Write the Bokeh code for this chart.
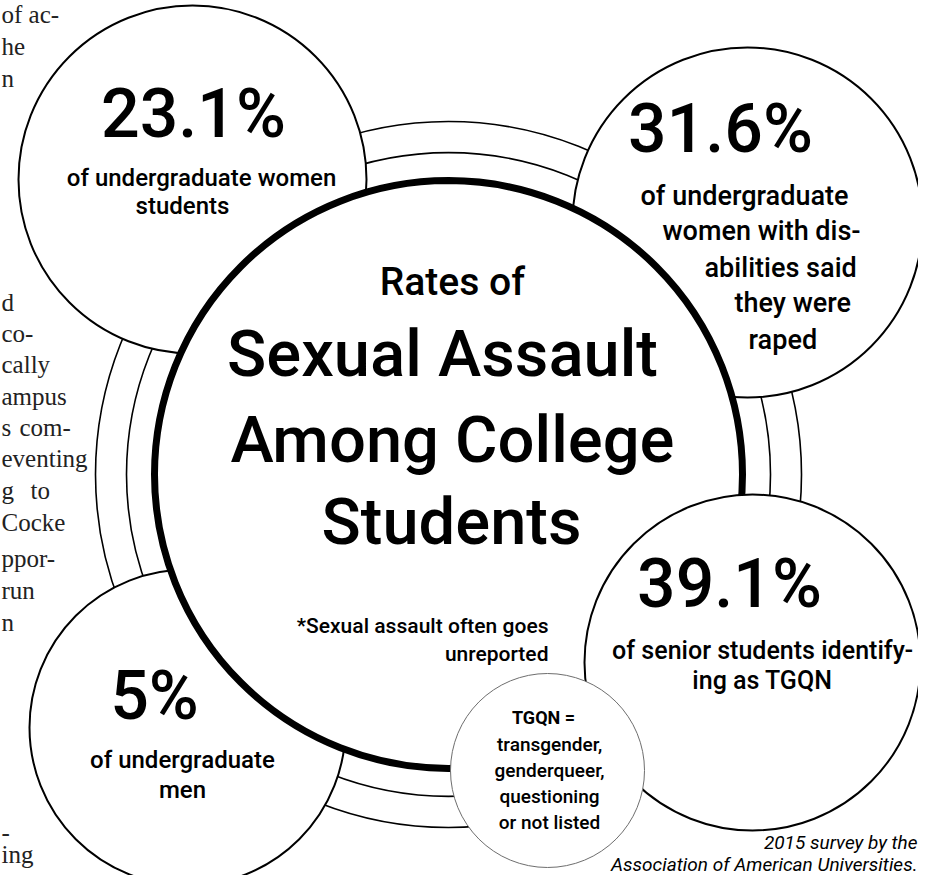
from bokeh.plotting import figure
from bokeh.models import Range1d
from bokeh.core.properties import value
from bokeh.embed import file_html
from bokeh.resources import INLINE

# ---------------- data ----------------
stat_values = ["23.1%", "31.6%", "39.1%", "5%"]
stat_desc_tl = ["of undergraduate women", "students"]
stat_desc_tr = ["of undergraduate", "women with dis-", "abilities said", "they were", "raped"]
stat_desc_br = ["of senior students identify-", "ing as TGQN"]
stat_desc_bl = ["of undergraduate", "men"]
title_small = "Rates of"
title_lines = ["Sexual Assault", "Among College", "Students"]
note_lines = ["*Sexual assault often goes", "unreported"]
tgqn_lines = ["TGQN =", "transgender,", "genderqueer,", "questioning", "or not listed"]
source_lines = ["2015 survey by the", "Association of American Universities."]
# background newspaper column fragments
news_top = ["of ac-", "he", "n"]
news_mid = ["d", "co-", "cally", "ampus", "s", "com-", "eventing", "g", "to", "Cocke", "ppor-", "run", "n"]
news_bot = ["-", "ing"]

FONT = value("Roboto Medium")

p = figure(width=918, height=875, x_range=Range1d(8, 926), y_range=Range1d(883, 8),
           output_backend="svg", toolbar_location=None, min_border=0)
p.axis.visible = False
p.grid.visible = False
p.outline_line_color = None
p.background_fill_color = "white"
p.border_fill_color = "white"

# ---- newspaper text fragments ----
NEWS = dict(text_font=value("Liberation Serif"), text_font_size="25px", text_color="#222222",
            text_align="left", text_baseline="middle")
p.text(x=[9, 9, 9], y=[22, 54, 86], text=news_top, **NEWS)
p.text(x=[9, 9, 9, 9, 9, 27, 9, 9, 38, 9, 9, 9, 9],
       y=[310, 341, 372, 404, 435, 435, 466, 498, 498, 530, 566, 598, 630], text=news_mid, **NEWS)
p.text(x=[9, 9], y=[840, 862], text=news_bot, **NEWS)

# ---- concentric thin rings ----
cx, cy = 456, 482
p.circle(x=[cx, cx], y=[cy, cy], radius=[322, 353], fill_color=None,
         line_color="black", line_width=1.6)

# ---- satellite circles below the central circle ----
p.circle(x=[200, 755, 195], y=[187, 230, 735], radius=[174, 175, 158],
         fill_color="white", line_color="black", line_width=2)

# ---- central circle ----
p.circle(x=[cx], y=[cy], radius=[294], fill_color="white", line_color="black", line_width=7)

# ---- bottom-right satellite (on top) ----
p.circle(x=[760], y=[670], radius=[168], fill_color="white", line_color="black", line_width=2)

# ---- TGQN small circle ----
p.circle(x=[555], y=[778], radius=[97], fill_color="white", line_color="#6e6e6e", line_width=1)

# ---- texts ----
BIG = dict(text_font=FONT, text_font_size="68px", text_color="black",
           text_align="center", text_baseline="middle")
p.text(x=[201, 728, 737, 162], y=[121, 136, 591, 703], text=stat_values, **BIG)

SMALL = dict(text_font=FONT, text_font_size="24px", text_color="black", text_baseline="middle")
p.text(x=[209, 190], y=[185, 213], text=stat_desc_tl, text_align="center", **SMALL)
p.text(x=[648, 670, 712, 742, 756], y=[203, 238, 275, 310, 347], text=stat_desc_tr,
       text_align="left", text_font=FONT, text_font_size="27px", text_color="black",
       text_baseline="middle")
p.text(x=[770, 770], y=[658, 688], text=stat_desc_br, text_align="center",
       text_font=FONT, text_font_size="25px", text_color="black", text_baseline="middle")
p.text(x=[190, 190], y=[767, 797], text=stat_desc_bl, text_align="center", **SMALL)

p.text(x=[460], y=[289], text=[title_small], text_font=FONT, text_font_size="39px",
       text_color="black", text_align="center", text_baseline="middle")
p.text(x=[450, 460, 459], y=[361, 447, 529], text=title_lines, text_font=FONT,
       text_font_size="65px", text_color="black", text_align="center", text_baseline="middle")

p.text(x=[556, 556], y=[633, 661], text=note_lines, text_font=FONT, text_font_size="21px",
       text_color="black", text_align="right", text_baseline="middle")

p.text(x=[551], y=[725], text=[tgqn_lines[0]], text_font=value("Roboto"), text_font_style="bold",
       text_font_size="18px", text_color="black", text_align="center", text_baseline="middle")
p.text(x=[557] * 4, y=[752, 778, 804, 830], text=tgqn_lines[1:], text_font=FONT,
       text_font_size="19px", text_color="black", text_align="center", text_baseline="middle")

p.text(x=[925, 925], y=[850, 872], text=source_lines, text_font=value("Roboto"),
       text_font_style="italic", text_font_size="19px", text_color="black",
       text_align="right", text_baseline="middle")

open("out.html", "w").write(file_html(p, INLINE))
